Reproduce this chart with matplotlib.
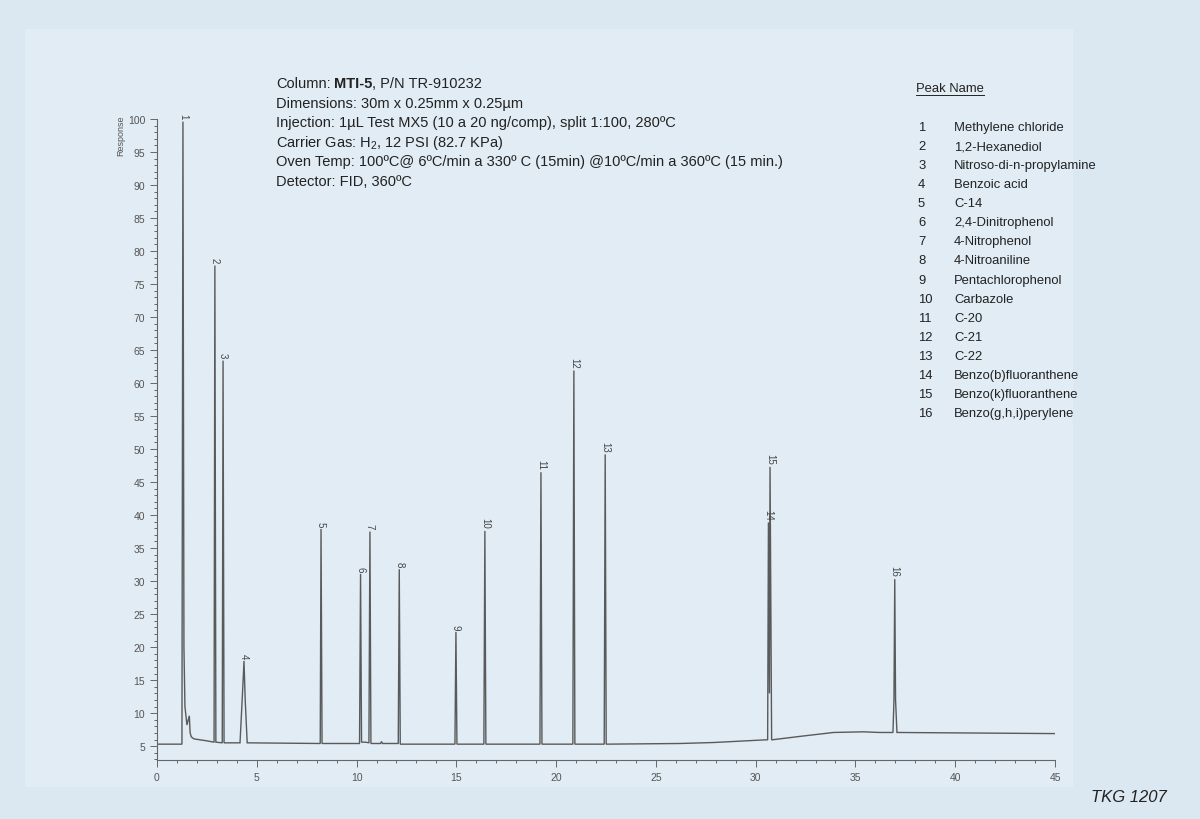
import numpy as np
import matplotlib.pyplot as plt
from matplotlib.ticker import MultipleLocator
from matplotlib.patches import Rectangle
from matplotlib.lines import Line2D

plt.rcParams['font.family'] = ['Liberation Sans', 'DejaVu Sans']
plt.rcParams['mathtext.fontset'] = 'custom'
plt.rcParams['mathtext.rm'] = 'Liberation Sans'
plt.rcParams['mathtext.it'] = 'Liberation Sans:italic'
plt.rcParams['mathtext.bf'] = 'Liberation Sans:bold'

## chromatogram trace (min, response)
trace_t = [0, 1.25, 1.30, 1.35, 1.40, 1.50, 1.62, 1.66, 1.72, 1.85, 2.5, 2.86,
           2.90, 2.95, 3.27, 3.31, 3.36, 4.16, 4.30, 4.36, 4.42, 4.52, 8.18,
           8.22, 8.27, 10.15, 10.20, 10.25, 10.45, 10.62, 10.67, 10.72, 11.2,
           11.25, 11.3, 12.09, 12.14, 12.19, 14.93, 14.98, 15.03, 16.38, 16.43,
           16.48, 19.19, 19.24, 19.29, 20.84, 20.89, 20.94, 22.41, 22.46, 22.51,
           26.2, 27.9, 30.46, 30.60, 30.64, 30.69, 30.72, 30.80, 32.2, 33.9,
           35.4, 36.2, 36.88, 36.93, 36.97, 37.01, 37.08, 45]
trace_y = [5.3, 5.3, 99.6, 20.0, 11.0, 8.2, 9.6, 7.0, 6.4, 6.1, 5.8, 5.6,
           77.8, 5.6, 5.5, 63.4, 5.5, 5.5, 14.0, 17.9, 12.0, 5.5, 5.4,
           37.9, 5.4, 5.4, 31.1, 5.6, 5.6, 5.5, 37.5, 5.4, 5.4,
           5.7, 5.4, 5.4, 31.8, 5.3, 5.3, 22.3, 5.3, 5.3, 37.6,
           5.3, 5.3, 46.5, 5.3, 5.3, 61.9, 5.3, 5.3, 49.2, 5.3,
           5.4, 5.55, 5.95, 5.95, 38.9, 13.0, 47.3, 5.95, 6.47, 7.07,
           7.17, 7.07, 7.07, 12.0, 30.3, 12.0, 7.07, 6.9]

## peak labels
peak_num = [str(i) for i in range(1, 17)]
peak_t = [1.30, 2.90, 3.31, 4.36, 8.22, 10.20, 10.67, 12.14, 14.98, 16.43,
          19.24, 20.89, 22.46, 30.62, 30.72, 36.97]
peak_h = [99.6, 77.8, 63.4, 17.9, 37.9, 31.1, 37.5, 31.8, 22.3, 37.6,
          46.5, 61.9, 49.2, 38.9, 47.3, 30.3]

peak_names = ['Methylene chloride', '1,2-Hexanediol', 'Nitroso-di-n-propylamine',
              'Benzoic acid', 'C-14', '2,4-Dinitrophenol', '4-Nitrophenol',
              '4-Nitroaniline', 'Pentachlorophenol', 'Carbazole', 'C-20', 'C-21',
              'C-22', 'Benzo(b)fluoranthene', 'Benzo(k)fluoranthene',
              'Benzo(g,h,i)perylene']

header = [None,
          'Dimensions: 30m x 0.25mm x 0.25\u00b5m',
          'Injection: 1\u00b5L Test MX5 (10 a 20 ng/comp), split 1:100, 280\u00baC',
          'Carrier Gas: H$_2$, 12 PSI (82.7 KPa)',
          'Oven Temp: 100\u00baC@ 6\u00baC/min a 330\u00ba C (15min) @10\u00baC/min a 360\u00baC (15 min.)',
          'Detector: FID, 360\u00baC']

W, H = 1200, 820
fig = plt.figure(figsize=(12, 8.2), dpi=100)
fig.patch.set_facecolor('#dce8f1')
fig.patches.append(Rectangle((25 / W, 1 - 788 / H), (1073 - 25) / W, (788 - 30) / H,
                             transform=fig.transFigure, facecolor='#e1ecf4',
                             edgecolor='none', zorder=-5))

ax = fig.add_axes([157 / W, 1 - 761 / H, 898 / W, 641 / H])
ax.set_facecolor('none')
ax.plot(trace_t, trace_y, color='#5a5a5a', lw=1.0, solid_joinstyle='miter')

for n, t, h in zip(peak_num, peak_t, peak_h):
    ax.annotate(n, (t, h), xytext=(0, 2), textcoords='offset points',
                ha='center', va='bottom', rotation=-90, fontsize=7,
                color='#444444', annotation_clip=False)

ax.set_xlim(0, 45)
ax.set_ylim(2.9, 100)
ax.xaxis.set_major_locator(MultipleLocator(5))
ax.xaxis.set_minor_locator(MultipleLocator(1))
ax.yaxis.set_minor_locator(MultipleLocator(1))
ax.set_yticks(np.arange(5, 101, 5))
for s in ['top', 'right']:
    ax.spines[s].set_visible(False)
for s in ['left', 'bottom']:
    ax.spines[s].set_color('#666666')
    ax.spines[s].set_linewidth(0.8)
ax.tick_params(which='both', colors='#666666', labelcolor='#555555', labelsize=7.5, width=0.7)
ax.tick_params(which='major', length=5)
ax.tick_params(which='minor', length=2.5)
ax.set_ylabel('Response', fontsize=6.5, color='#555555', labelpad=0)
ax.yaxis.set_label_coords(-0.035, 0.975)

# header block
fs = 10.5
y0 = 1 - 88 / H
t1 = fig.text(276 / W, y0, 'Column:', fontsize=fs, va='baseline', color='#222222')
fig.canvas.draw()
r = fig.canvas.get_renderer()
x1 = t1.get_window_extent(r).x1 + 3
t2 = fig.text(x1 / W, y0, 'MTI-5', fontsize=fs, va='baseline', weight='bold', color='#222222')
x2 = t2.get_window_extent(r).x1
fig.text(x2 / W, y0, ', P/N TR-910232', fontsize=fs, va='baseline', color='#222222')
for i, line in enumerate(header):
    if line is None:
        continue
    fig.text(276 / W, 1 - (88 + i * 19.6) / H, line, fontsize=fs, va='baseline', color='#222222')

# peak table
lfs = 9.4
tp = fig.text(916 / W, 1 - 92 / H, 'Peak Name', fontsize=lfs, va='baseline', color='#222222')
bb = tp.get_window_extent(r)
fig.lines.append(Line2D([bb.x0 / W, bb.x1 / W], [(bb.y0 - 1) / H, (bb.y0 - 1) / H],
                        transform=fig.transFigure, color='#222222', lw=0.7))
for i, (n, name) in enumerate(zip(peak_num, peak_names)):
    yy = 1 - (131 + i * 19.07) / H
    fig.text(918 / W, yy, n, fontsize=lfs, va='baseline', color='#222222')
    fig.text(954 / W, yy, name, fontsize=lfs, va='baseline', color='#222222')

fig.text(1167 / W, 1 - 802 / H, 'TKG 1207', fontsize=12, style='italic',
         ha='right', va='baseline', color='#222222')

fig.savefig('out.png', dpi=100, facecolor=fig.get_facecolor())
